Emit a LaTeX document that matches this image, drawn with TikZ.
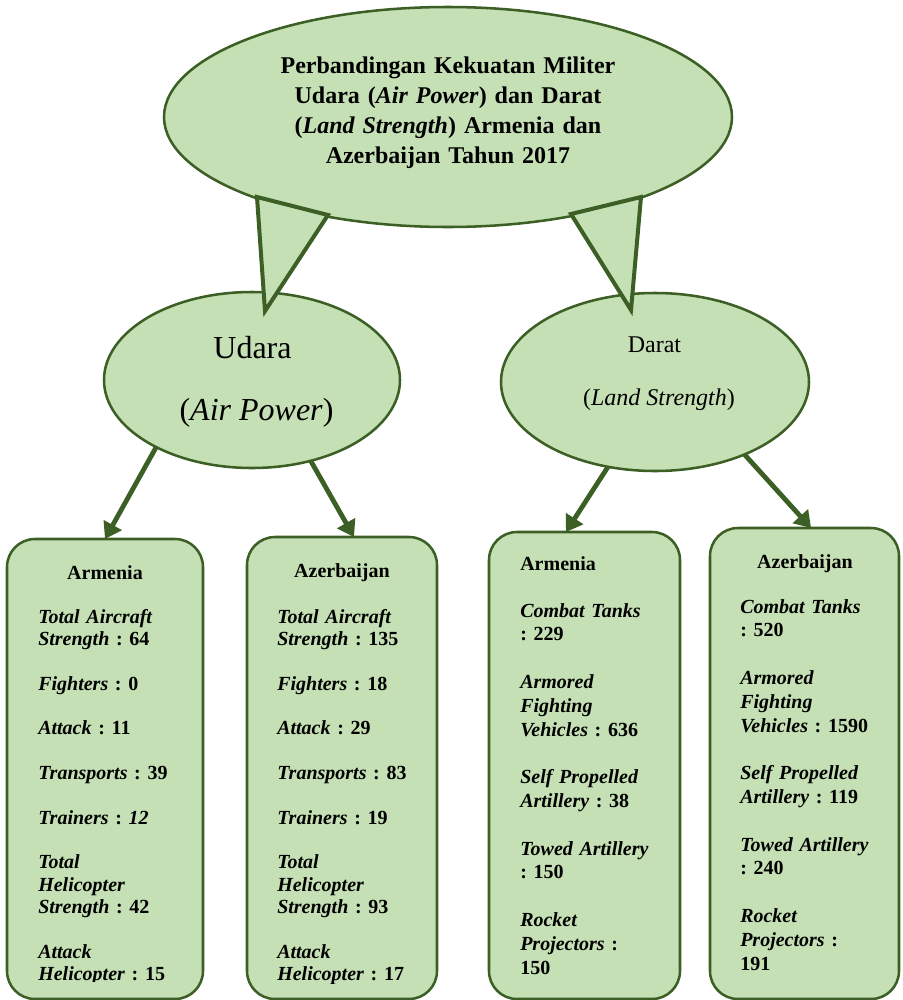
\documentclass[tikz,border=0pt]{standalone}
\usepackage{fontspec}
\setmainfont{Liberation Serif}
\usetikzlibrary{arrows.meta,shapes.geometric}
\definecolor{leaf}{HTML}{C5E0B4}
\definecolor{bark}{HTML}{3B5F24}
\frenchspacing
\tikzset{
  bubble/.style={ellipse, draw=bark, fill=leaf, line width=1.9pt, inner sep=0pt, outer sep=0pt},
  card/.style={rectangle, rounded corners=21pt, draw=bark, fill=leaf, line width=1.9pt, inner sep=0pt, outer sep=0pt},
  wedge/.style={draw=bark, fill=leaf, line width=3pt, line join=miter},
  link/.style={draw=bark, line width=3.6pt, -{Triangle[length=12pt,width=15pt]}},
  cardhead/.style={inner sep=0pt, font=\fontsize{15}{16.76}\selectfont\bfseries},
  cardtext/.style={inner sep=0pt, anchor=base west, text width=150pt, align=left},
  airtext/.style={cardtext, font=\fontsize{15}{16.76}\selectfont\bfseries},
  landtext/.style={cardtext, font=\fontsize{15}{17.85}\selectfont\bfseries},
}
\newcommand{\lbl}[1]{\textit{#1}}
\begin{document}
\begin{tikzpicture}[x=0.75pt,y=-0.75pt]
\useasboundingbox (0,0) rectangle (903,1000);

% main bubble and the two branch bubbles
\node[bubble, minimum width=426pt, minimum height=165pt] (title) at (448,117) {};
\node[bubble, minimum width=222pt, minimum height=132pt] (udara) at (252,380) {};
\node[bubble, minimum width=231pt, minimum height=133.5pt] (darat) at (655,382) {};

% callout wedges from the main bubble
\draw[wedge] (257,197) -- (328,215) -- (265,311) -- cycle;
\draw[wedge] (571,214) -- (641,197) -- (631,310) -- cycle;

% title text
\node[inner sep=0pt, anchor=base, text width=270pt, align=center,
      font=\fontsize{18}{22.5}\selectfont\bfseries] (titletext) at (448,73)
  {Perbandingan Kekuatan Militer\\
   Udara (\textit{Air Power}) dan Darat\\
   (\textit{Land Strength}) Armenia dan\\
   Azerbaijan Tahun 2017};

% branch labels
\node[inner sep=0pt, anchor=base, font=\fontsize{24}{28}\selectfont] (udara1) at (252.5,358) {Udara};
\node[inner sep=0pt, anchor=base, font=\fontsize{24}{28}\selectfont] (udara2) at (256.5,420) {(\textit{Air Power})};
\node[inner sep=0pt, anchor=base, font=\fontsize{18}{22}\selectfont] (darat1) at (654.5,352) {Darat};
\node[inner sep=0pt, anchor=base, font=\fontsize{18}{22}\selectfont] (darat2) at (659,405) {(\textit{Land Strength})};

% data cards
\node[card, minimum width=147pt, minimum height=345pt] (box1) at (105,769) {};
\node[card, minimum width=142.5pt, minimum height=346.5pt] (box2) at (342,768) {};
\node[card, minimum width=143.25pt, minimum height=350.25pt] (box3) at (584.5,765.5) {};
\node[card, minimum width=141.75pt, minimum height=353.25pt] (box4) at (804.5,763.5) {};

% arrows from branches to cards
\draw[link] (udara.215.9) -- (box1.north);
\draw[link] (udara.306.3) -- ([xshift=9pt]box2.north);
\draw[link] (darat.241.1) -- ([xshift=-13.9pt]box3.north);
\draw[link] (darat.321.4) -- ([xshift=4.9pt]box4.north);

% card headers
\node[cardhead, anchor=base] (h1) at (105,579) {Armenia};
\node[cardhead, anchor=base] (h2) at (342,577) {Azerbaijan};
\node[cardhead, anchor=base west] (h3) at (520,570) {Armenia};
\node[cardhead, anchor=base] (h4) at (805,568) {Azerbaijan};

% air power cards (text runs past the bottom edge and is cut off)
\begin{scope}
\clip (0,0) rectangle (240,981);
\node[airtext] (t1) at (38,623)
  {\lbl{Total Aircraft}\\ \lbl{Strength} : 64\\[16.76pt]
   \lbl{Fighters} : 0\\[16.76pt]
   \lbl{Attack} : 11\\[16.76pt]
   \lbl{Transports} : 39\\[16.76pt]
   \lbl{Trainers} : \lbl{12}\\[16.76pt]
   \lbl{Total}\\ \lbl{Helicopter}\\ \lbl{Strength} : 42\\[16.76pt]
   \lbl{Attack}\\ \lbl{Helicopter} : 15};
\end{scope}
\begin{scope}
\clip (240,0) rectangle (480,983);
\node[airtext] (t2) at (277,623)
  {\lbl{Total Aircraft}\\ \lbl{Strength} : 135\\[16.76pt]
   \lbl{Fighters} : 18\\[16.76pt]
   \lbl{Attack} : 29\\[16.76pt]
   \lbl{Transports} : 83\\[16.76pt]
   \lbl{Trainers} : 19\\[16.76pt]
   \lbl{Total}\\ \lbl{Helicopter}\\ \lbl{Strength} : 93\\[16.76pt]
   \lbl{Attack}\\ \lbl{Helicopter} : 17};
\end{scope}

% land strength cards
\node[landtext] (t3) at (520,617)
  {\lbl{Combat Tanks}\\ : 229\\[17.85pt]
   \lbl{Armored}\\ \lbl{Fighting}\\ \lbl{Vehicles} : 636\\[17.85pt]
   \lbl{Self Propelled}\\ \lbl{Artillery} : 38\\[17.85pt]
   \lbl{Towed Artillery}\\ : 150\\[17.85pt]
   \lbl{Rocket}\\ \lbl{Projectors} :\\ 150};
\node[landtext] (t4) at (740,613)
  {\lbl{Combat Tanks}\\ : 520\\[17.85pt]
   \lbl{Armored}\\ \lbl{Fighting}\\ \lbl{Vehicles} : 1590\\[17.85pt]
   \lbl{Self Propelled}\\ \lbl{Artillery} : 119\\[17.85pt]
   \lbl{Towed Artillery}\\ : 240\\[17.85pt]
   \lbl{Rocket}\\ \lbl{Projectors} :\\ 191};
\end{tikzpicture}
\end{document}
